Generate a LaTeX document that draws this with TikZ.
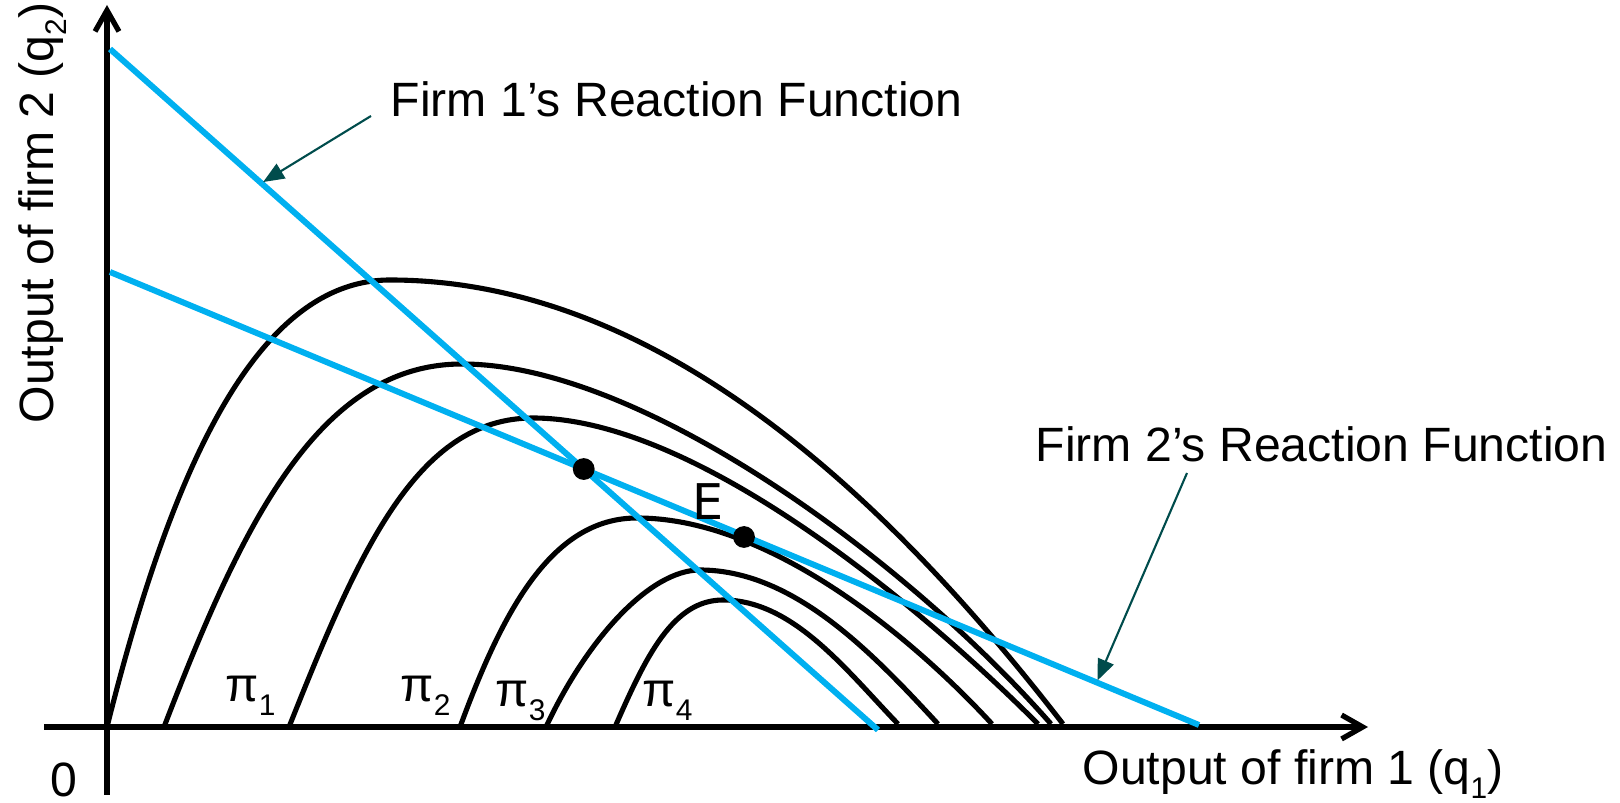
\documentclass[tikz,border=0pt]{standalone}
\usepackage{fontspec}
\setmainfont{Liberation Sans}
\newfontfamily\eqfont{DejaVu Sans}
\usetikzlibrary{arrows.meta}
\definecolor{rfblue}{RGB}{0, 176, 240}
\definecolor{pointerteal}{RGB}{0, 76, 76}
\newcommand{\lowsub}[1]{\raisebox{-0.28em}{\fontsize{8.5}{9}\selectfont #1}}

\begin{document}
\begin{tikzpicture}[
        x=1mm, y=1mm,
        axisline/.style={
            line width=1.5pt,
            -{Straight Barb[length=6pt, width=6.8pt]}
        },
        isoprofit/.style={line width=1.45pt},
        rfline/.style={line width=1.7pt, draw=rfblue},
        pointer/.style={
            line width=0.6pt, draw=pointerteal, shorten >=0.6pt,
            -{Triangle[length=6pt, width=4.8pt]}
        },
        lbl/.style={font=\fontsize{13.7}{16}\selectfont, inner sep=0pt},
        eqdot/.style={circle, fill=black, minimum size=6.2pt, inner sep=0pt}
    ]

    \useasboundingbox (0,0) rectangle (162,80.3);

    % axes
    \coordinate (xfrom) at (4.4,7.6);
    \coordinate (xto) at (136.8,7.6);
    \coordinate (yfrom) at (10.7,0.8);
    \coordinate (yto) at (10.7,79.8);
    \draw[axisline] (xfrom) -- (xto);
    \draw[axisline] (yfrom) -- (yto);

    % isoprofit curves, outermost first
    \draw[isoprofit] (10.7,7.6) .. controls (16.95,32.6) and (25.4,52.3) .. (39.0,52.3)
        .. controls (66.0,52.3) and (88.9,30.4) .. (106.3,7.9);
    \draw[isoprofit] (16.4,7.6) .. controls (24.2,27.9) and (31.9,43.9) .. (46.2,43.9)
        .. controls (64.2,43.9) and (90.8,24.2) .. (105.1,7.9);
    \draw[isoprofit] (28.9,7.6) .. controls (35.8,24.9) and (41.6,38.5) .. (53.3,38.5)
        .. controls (69.0,38.5) and (90.8,20.9) .. (103.8,7.9);
    \draw[isoprofit] (46.0,7.6) .. controls (50.3,19.3) and (55.2,28.5) .. (63.7,28.5)
        .. controls (76.7,28.5) and (90.8,17.0) .. (99.2,7.9);
    \draw[isoprofit] (54.6,7.6) .. controls (58.7,16.4) and (65.0,23.3) .. (70.0,23.3)
        .. controls (79.5,23.3) and (87.5,14.7) .. (93.8,7.9);
    \draw[isoprofit] (61.5,7.6) .. controls (64.6,14.7) and (67.3,20.3) .. (72.3,20.3)
        .. controls (79.3,20.3) and (84.6,13.3) .. (89.8,7.9);

    % reaction functions
    \coordinate (rf1top) at (11.0,75.4);
    \coordinate (rf1end) at (87.8,7.3);
    \coordinate (rf2top) at (11.0,53.1);
    \coordinate (rf2end) at (119.9,7.8);
    \draw[rfline] (rf1top) -- (rf1end);
    \draw[rfline] (rf2top) -- (rf2end);
    \path (rf1top) -- (rf1end) coordinate[pos=0.197] (rf1hit);
    \path (rf2top) -- (rf2end) coordinate[pos=0.906] (rf2hit);

    \node[eqdot] (cournot) at (intersection of rf1top--rf1end and rf2top--rf2end) {};
    \node[eqdot] (eqE) at (74.4,26.6) {};
    \node[font=\eqfont\fontsize{14}{16}\selectfont, inner sep=0pt,
          anchor=base] (elbl) at (70.8,28.3) {E};

    % labels
    \node[lbl, anchor=base west] (rf1lbl) at (39.0,68.6)
        {Firm 1’s Reaction Function};
    \draw[pointer] ([xshift=-1.9mm, yshift=0.1mm]rf1lbl.base west) -- (rf1hit);

    \node[lbl, anchor=base west] (rf2lbl) at (103.5,34.1)
        {Firm 2’s Reaction Function};
    \draw[pointer] ([xshift=15.2mm, yshift=-1.1mm]rf2lbl.base west) -- (rf2hit);

    \node[lbl, anchor=base west] (pi1) at (22.5,10.1) {π\lowsub{1}};
    \node[lbl, anchor=base west] (pi2) at (40.0,10.1) {π\lowsub{2}};
    \node[lbl, anchor=base west] (pi3) at (49.5,9.6) {π\lowsub{3}};
    \node[lbl, anchor=base west] (pi4) at (64.2,9.6) {π\lowsub{4}};

    \node[lbl, anchor=base west] (xlbl) at (108.2,1.8)
        {Output of firm 1 (q\lowsub{1})};
    \node[lbl, anchor=base west, rotate=90] (ylbl) at (5.3,37.9)
        {Output of firm 2 (q\lowsub{2})};
    \node[lbl, anchor=base] (zero) at (6.4,0.6) {0};

\end{tikzpicture}
\end{document}
